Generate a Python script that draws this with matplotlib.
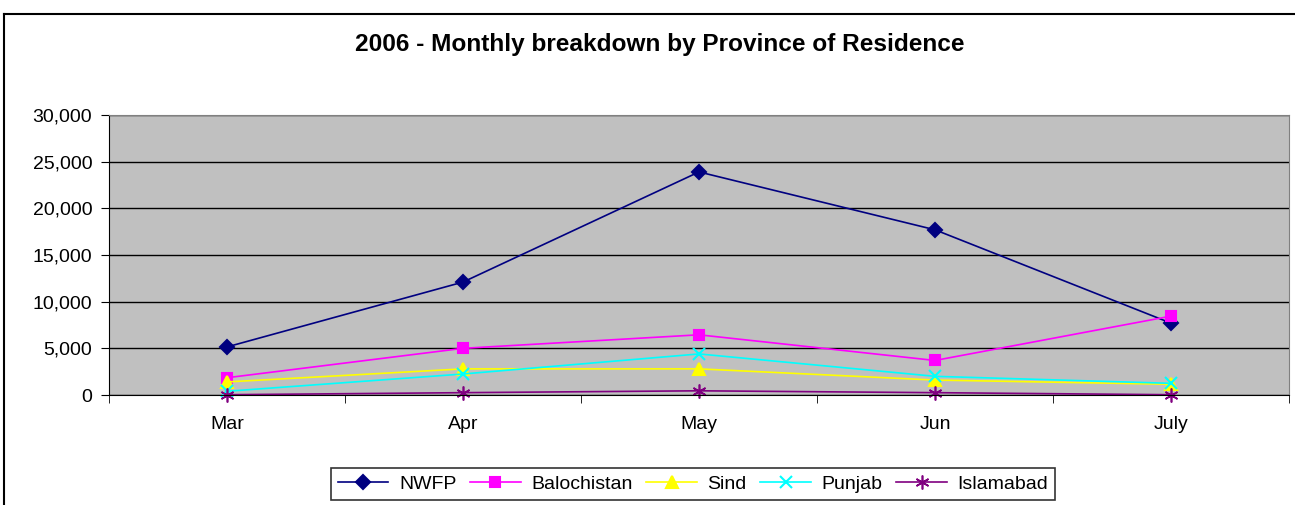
import numpy as np
import matplotlib.pyplot as plt
from matplotlib.lines import Line2D
from matplotlib.ticker import FuncFormatter

# Данные графика
months = ['Mar', 'Apr', 'May', 'Jun', 'July']
nwfp = [5150, 12100, 23900, 17700, 7700]
balochistan = [1850, 5000, 6450, 3700, 8450]
sind = [1400, 2800, 2800, 1600, 1150]
punjab = [400, 2250, 4400, 2000, 1250]
islamabad = [30, 250, 450, 250, 30]

series_names = ['NWFP', 'Balochistan', 'Sind', 'Punjab', 'Islamabad']
series_values = [nwfp, balochistan, sind, punjab, islamabad]
colors = ['#000080', '#FF00FF', '#FFFF00', '#00FFFF', '#800080']
markers = ['D', 's', '^', 'x', (6, 2, 0)]
msizes = [7, 7, 8, 8, 10]
mews = [1.5, 1.5, 1.5, 1.5, 1.2]

plt.rcParams['font.family'] = ['Liberation Sans', 'DejaVu Sans']

fig = plt.figure(figsize=(12.95, 5.05), dpi=100)

# Рамка всей диаграммы
fig.add_artist(Line2D([4 / 1295, 4 / 1295], [0, 1 - 14 / 505], color='black', lw=1.5))
fig.add_artist(Line2D([4 / 1295, 1], [1 - 14 / 505, 1 - 14 / 505], color='black', lw=1.5))

ax = fig.add_axes([109 / 1295, 110 / 505, 1180 / 1295, 280 / 505])
ax.set_facecolor('#C0C0C0')

x = np.arange(len(months))
for name, vals, c, m, ms, mew in zip(series_names, series_values, colors, markers, msizes, mews):
    ax.plot(x, vals, color=c, marker=m, markersize=ms, lw=1.2,
            markeredgecolor=c, markerfacecolor=c, markeredgewidth=mew, label=name, clip_on=False)

ax.set_xlim(-0.5, len(months) - 0.5)
ax.set_ylim(0, 30000)
ax.set_yticks(np.arange(0, 30001, 5000))
ax.yaxis.set_major_formatter(FuncFormatter(lambda v, p: f'{int(v):,}'))
ax.yaxis.grid(True, color='black', lw=1)
ax.set_axisbelow(True)

ax.set_xticks(x)
ax.set_xticklabels(months)
ax.set_xticks(np.arange(-0.5, len(months) + 0.5, 1), minor=True)
ax.tick_params(axis='x', which='major', length=0, pad=15, labelsize=14)
ax.tick_params(axis='x', which='minor', length=6, direction='out', color='black')
ax.tick_params(axis='y', length=6, direction='out', labelsize=14, pad=6)

for s in ['top', 'right']:
    ax.spines[s].set_color('#808080')
ax.spines['left'].set_color('black')
ax.spines['bottom'].set_color('black')

fig.text(660 / 1295, 1 - 44 / 505, '2006 - Monthly breakdown by Province of Residence',
         ha='center', va='center', fontsize=17.6, fontweight='bold')

leg = fig.legend(loc='center', bbox_to_anchor=(693 / 1295, 1 - 484 / 505), ncol=5,
                 frameon=True, fancybox=False, edgecolor='black', fontsize=14,
                 handlelength=2.6, columnspacing=0.7, handletextpad=0.55,
                 borderpad=0.35)
leg.get_frame().set_linewidth(1.2)

fig.savefig('out.png', dpi=100)
